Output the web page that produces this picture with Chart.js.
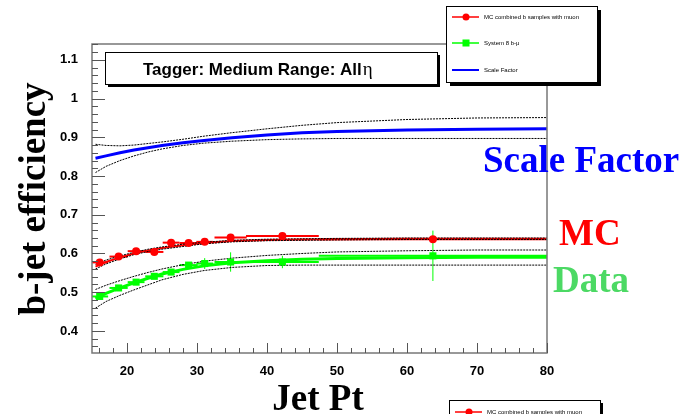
<!DOCTYPE html>
<html>
<head>
<meta charset="utf-8">
<script src="https://cdn.jsdelivr.net/npm/chart.js@4.4.0/dist/chart.umd.min.js"></script>
<style>
  html, body { margin: 0; padding: 0; background: #fff; }
</style>
</head>
<body>
<canvas id="effChart" width="694" height="414"></canvas>
<script>
// measured bins (Jet Pt) and their half widths
const ptBins = [16.1, 18.8, 21.3, 23.9, 26.3, 28.8, 31.1, 34.8, 42.2, 63.7];
const ptHalfWidth = [1.2, 1.3, 1.2, 1.3, 1.2, 1.3, 1.2, 2.3, 5.2, 16.3];

// MC combined b samples with muon
const mcEff = [0.577, 0.592, 0.606, 0.604, 0.628, 0.627, 0.630, 0.641, 0.645, 0.637];
const mcErr = [0.005, 0.004, 0.004, 0.004, 0.004, 0.004, 0.004, 0.004, 0.004, 0.008];

// System 8 data
const dataEff = [0.489, 0.511, 0.526, 0.541, 0.552, 0.570, 0.574, 0.578, 0.578, 0.594];
const dataErr = [0.008, 0.006, 0.006, 0.006, 0.006, 0.007, 0.014, 0.025, 0.016, 0.065];

// fitted curves at these Pt values
const fitPt = [15.5, 17, 19, 21, 23, 25, 28, 31, 35, 40, 45, 50, 60, 70, 80];
const mcFit = [0.566, 0.578, 0.590, 0.600, 0.608, 0.614, 0.621, 0.627, 0.632, 0.635, 0.636, 0.637, 0.638, 0.638, 0.638];
const mcFitUp = [0.572, 0.583, 0.594, 0.603, 0.611, 0.617, 0.624, 0.629, 0.634, 0.637, 0.638, 0.639, 0.640, 0.640, 0.640];
const mcFitLo = [0.560, 0.573, 0.586, 0.597, 0.605, 0.611, 0.618, 0.625, 0.630, 0.633, 0.634, 0.635, 0.636, 0.636, 0.636];
const dataFit = [0.483, 0.497, 0.511, 0.524, 0.536, 0.547, 0.559, 0.568, 0.576, 0.581, 0.585, 0.587, 0.589, 0.590, 0.590];
const dataFitUp = [0.507, 0.518, 0.530, 0.541, 0.551, 0.560, 0.571, 0.580, 0.588, 0.595, 0.600, 0.604, 0.607, 0.609, 0.609];
const dataFitLo = [0.459, 0.476, 0.492, 0.506, 0.519, 0.532, 0.546, 0.556, 0.564, 0.569, 0.570, 0.570, 0.570, 0.570, 0.570];
const sfFit = [0.846, 0.852, 0.860, 0.867, 0.873, 0.879, 0.886, 0.892, 0.899, 0.906, 0.912, 0.915, 0.919, 0.921, 0.922];
const sfFitUp = [0.882, 0.879, 0.878, 0.880, 0.884, 0.888, 0.895, 0.903, 0.912, 0.922, 0.931, 0.938, 0.946, 0.950, 0.951];
const sfFitLo = [0.809, 0.825, 0.840, 0.852, 0.862, 0.870, 0.879, 0.885, 0.890, 0.894, 0.896, 0.897, 0.897, 0.897, 0.897];

// axis labels
const xTicks = [20, 30, 40, 50, 60, 70, 80];
const yTicks = [0.4, 0.5, 0.6, 0.7, 0.8, 0.9, 1.0, 1.1];

const RED = '#ff0000';
const GREEN = '#00ff00';
const BLUE = '#0000ff';

function pts(xs, ys) {
    return xs.map((x, i) => ({ x: x, y: ys[i] }));
}

function curve(ys, color, width, order) {
    return {
        data: pts(fitPt, ys),
        showLine: true,
        borderColor: color,
        borderWidth: width,
        pointRadius: 0,
        order: order
    };
}

function band(ys) {
    return {
        data: pts(fitPt, ys),
        showLine: true,
        borderColor: '#000',
        borderWidth: 1,
        borderDash: [2, 1],
        pointRadius: 0,
        order: 1
    };
}

// error bars (x and y) drawn through the chart scales
const errorBars = {
    id: 'errorBars',
    beforeDatasetsDraw(chart) {
        const ctx = chart.ctx;
        const xs = chart.scales.x;
        const ys = chart.scales.y;
        const area = chart.chartArea;
        ctx.save();
        ctx.beginPath();
        ctx.rect(area.left, area.top, area.right - area.left, area.bottom - area.top);
        ctx.clip();
        chart.data.datasets.forEach(ds => {
            if (!ds.yErr) return;
            ctx.strokeStyle = ds.barColor;
            ds.data.forEach((p, i) => {
                const px = xs.getPixelForValue(p.x);
                const py = ys.getPixelForValue(p.y);
                ctx.lineWidth = ds.hBarWidth;
                ctx.beginPath();
                ctx.moveTo(xs.getPixelForValue(p.x - ptHalfWidth[i]), py);
                ctx.lineTo(xs.getPixelForValue(p.x + ptHalfWidth[i]), py);
                ctx.stroke();
                ctx.lineWidth = 1;
                ctx.beginPath();
                ctx.moveTo(px, ys.getPixelForValue(p.y - ds.yErr[i]));
                ctx.lineTo(px, ys.getPixelForValue(p.y + ds.yErr[i]));
                ctx.stroke();
            });
        });
        ctx.restore();
    }
};

function shadowBox(ctx, x, y, w, h, off) {
    ctx.fillStyle = '#000';
    ctx.fillRect(x + off, y + off, w, h);
    ctx.fillStyle = '#fff';
    ctx.fillRect(x, y, w, h);
    ctx.strokeStyle = '#000';
    ctx.lineWidth = 1;
    ctx.strokeRect(x + 0.5, y + 0.5, w, h);
}

function legendRow(ctx, x, y, color, marker, text) {
    ctx.strokeStyle = color;
    ctx.lineWidth = marker === 'none' ? 2 : 1.5;
    ctx.beginPath();
    ctx.moveTo(x, y);
    ctx.lineTo(x + 27, y);
    ctx.stroke();
    ctx.fillStyle = color;
    if (marker === 'circle') {
        ctx.beginPath();
        ctx.arc(x + 14, y, 3.5, 0, Math.PI * 2);
        ctx.fill();
    } else if (marker === 'square') {
        ctx.fillRect(x + 10.5, y - 3.5, 7, 7);
    }
    ctx.fillStyle = '#000';
    ctx.font = '6px "Liberation Sans", Arial, sans-serif';
    ctx.textAlign = 'left';
    ctx.textBaseline = 'middle';
    ctx.fillText(text, x + 32, y);
}

// frame, inner ticks, boxes and text labels
const decorations = {
    id: 'decorations',
    afterDraw(chart) {
        const ctx = chart.ctx;
        const xs = chart.scales.x;
        const ys = chart.scales.y;
        const a = chart.chartArea;
        ctx.save();

        // frame
        ctx.strokeStyle = '#777';
        ctx.lineWidth = 1.5;
        ctx.strokeRect(a.left, a.top, a.right - a.left, a.bottom - a.top);

        // y ticks, inside the frame
        ctx.strokeStyle = '#555';
        ctx.lineWidth = 1;
        for (let k = 0; k <= 40; k++) {
            const v = 0.34 + k * 0.02;
            if (v < ys.min || v > ys.max) continue;
            const major = Math.abs(Math.round(v * 10) - v * 10) < 1e-6;
            const py = Math.round(ys.getPixelForValue(v)) + 0.5;
            ctx.beginPath();
            ctx.moveTo(a.left, py);
            ctx.lineTo(a.left + (major ? 13 : 6), py);
            ctx.stroke();
        }
        // x ticks
        for (let v = 16; v <= 80; v += 2) {
            const major = v % 10 === 0;
            const px = Math.round(xs.getPixelForValue(v)) + 0.5;
            ctx.beginPath();
            ctx.moveTo(px, a.bottom);
            ctx.lineTo(px, a.bottom - (major ? 10 : 5));
            ctx.stroke();
        }

        // title box
        shadowBox(ctx, 105, 52, 332, 32, 3);
        ctx.fillStyle = '#000';
        ctx.textBaseline = 'alphabetic';
        ctx.textAlign = 'left';
        ctx.font = 'bold 17px "Liberation Sans", Arial, sans-serif';
        const t1 = 'Tagger: Medium Range: All';
        ctx.fillText(t1, 143, 75);
        const w1 = ctx.measureText(t1).width;
        ctx.font = '19px "Liberation Serif", "Times New Roman", serif';
        ctx.fillText('η', 143 + w1 + 1, 75);

        // legend box (top)
        shadowBox(ctx, 446, 6, 151, 76, 4);
        legendRow(ctx, 452, 17, RED, 'circle', 'MC combined b samples with muon');
        legendRow(ctx, 452, 43, GREEN, 'square', 'System 8 b-μ');
        legendRow(ctx, 452, 70, BLUE, 'none', 'Scale Factor');

        // legend box (bottom, cut by the edge)
        shadowBox(ctx, 449, 400, 151, 76, 3);
        legendRow(ctx, 455, 412, RED, 'circle', 'MC combined b samples with muon');

        // axis titles
        ctx.fillStyle = '#000';
        ctx.font = 'bold 37px "Liberation Serif", "Times New Roman", serif';
        ctx.textAlign = 'center';
        ctx.textBaseline = 'alphabetic';
        ctx.fillText('Jet Pt', 318, 410);
        ctx.save();
        ctx.translate(45, 199);
        ctx.rotate(-Math.PI / 2);
        ctx.fillText('b-jet efficiency', 0, 0);
        ctx.restore();

        // curve labels
        ctx.textAlign = 'left';
        ctx.fillStyle = BLUE;
        ctx.fillText('Scale Factor', 483, 172);
        ctx.fillStyle = RED;
        ctx.fillText('MC', 559, 245);
        ctx.fillStyle = '#4cd964';
        ctx.fillText('Data', 553, 292);

        ctx.restore();
    }
};

new Chart(document.getElementById('effChart'), {
    type: 'scatter',
    data: {
        datasets: [
            {
                data: pts(ptBins, mcEff),
                yErr: mcErr,
                barColor: RED,
                hBarWidth: 2,
                pointStyle: 'circle',
                pointRadius: 4,
                backgroundColor: RED,
                borderColor: RED,
                borderWidth: 0,
                order: 0
            },
            {
                data: pts(ptBins, dataEff),
                yErr: dataErr,
                barColor: GREEN,
                hBarWidth: 2,
                pointStyle: 'rect',
                pointRadius: 5,
                backgroundColor: GREEN,
                borderColor: GREEN,
                borderWidth: 0,
                order: 0
            },
            band(mcFitUp),
            band(mcFitLo),
            band(dataFitUp),
            band(dataFitLo),
            band(sfFitUp),
            band(sfFitLo),
            curve(mcFit, RED, 2, 2),
            curve(dataFit, GREEN, 3, 2),
            curve(sfFit, BLUE, 3, 2)
        ]
    },
    options: {
        responsive: false,
        animation: false,
        devicePixelRatio: 1,
        layout: { padding: { top: 44, right: 147, left: 0, bottom: 0 } },
        plugins: {
            legend: { display: false },
            tooltip: { enabled: false }
        },
        scales: {
            x: {
                type: 'linear',
                min: 15,
                max: 80,
                afterBuildTicks: s => { s.ticks = xTicks.map(v => ({ value: v })); },
                afterFit: s => { s.height = 61; },
                grid: { display: false },
                border: { display: false },
                ticks: {
                    padding: 3,
                    color: '#000',
                    font: { family: '"Liberation Sans", Arial, sans-serif', size: 13, weight: 'bold' },
                    callback: v => String(v)
                }
            },
            y: {
                type: 'linear',
                min: 0.343,
                max: 1.141,
                afterBuildTicks: s => { s.ticks = yTicks.map(v => ({ value: v })); },
                afterFit: s => { s.width = 92; },
                grid: { display: false },
                border: { display: false },
                ticks: {
                    padding: 6,
                    color: '#000',
                    font: { family: '"Liberation Sans", Arial, sans-serif', size: 13, weight: 'bold' },
                    callback: v => (v === 1 ? '1' : String(Math.round(v * 10) / 10))
                }
            }
        }
    },
    plugins: [errorBars, decorations]
});
</script>
</body>
</html>
